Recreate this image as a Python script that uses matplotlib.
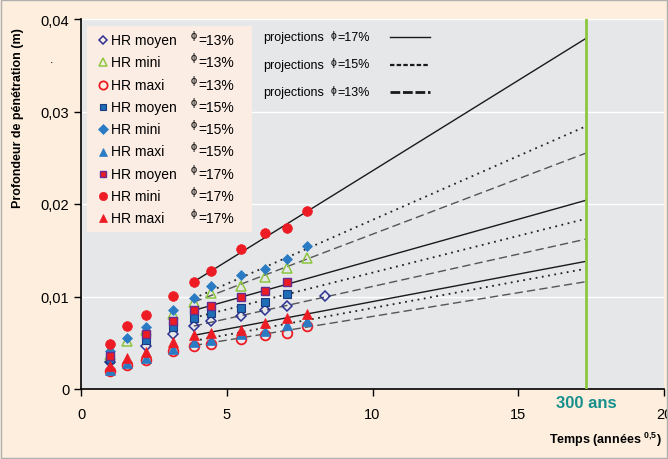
import numpy as np
import matplotlib.pyplot as plt
from matplotlib.patches import Rectangle

plt.rcParams['font.family'] = ['Liberation Sans', 'DejaVu Sans']
plt.rcParams['mathtext.fontset'] = 'custom'
plt.rcParams['mathtext.rm'] = 'Liberation Sans'
plt.rcParams['mathtext.bf'] = 'Liberation Sans:bold'

nan = np.nan
# temps (annees^0.5)
t = [1.0, 1.58, 2.24, 3.16, 3.87, 4.47, 5.48, 6.32, 7.07, 7.75, 8.37]

moy13 = [0.0029, nan, 0.0047, 0.0059, 0.0068, 0.0073, 0.0079, 0.0085, 0.0090, nan, 0.0101]
mini13 = [0.0037, 0.0052, 0.0064, 0.0081, 0.0094, 0.0104, 0.0111, 0.0121, 0.0131, 0.0142, nan]
maxi13 = [0.0019, 0.0026, 0.0031, 0.0041, 0.0047, 0.0049, 0.0054, 0.0058, 0.0061, 0.0068, nan]
moy15 = [0.0032, nan, 0.0053, 0.0067, 0.0077, 0.0082, 0.0088, 0.0094, 0.0103, nan, nan]
mini15 = [0.0041, 0.0055, 0.00675, 0.0085, 0.0098, 0.0111, 0.0123, 0.0130, 0.0141, 0.0155, nan]
maxi15 = [0.0021, 0.0028, 0.0033, 0.0043, 0.0051, 0.0053, 0.0060, 0.0063, 0.0069, 0.0073, nan]
moy17 = [0.0036, nan, 0.0059, 0.0073, 0.0085, 0.0090, 0.0099, 0.0106, 0.0116, nan, nan]
mini17 = [0.0049, 0.0068, 0.0080, 0.0101, 0.0116, 0.0128, 0.0151, 0.0169, 0.0174, 0.0192, nan]
maxi17 = [0.0025, 0.0033, 0.0040, 0.0051, 0.0058, 0.0061, 0.0064, 0.0071, 0.0077, 0.0081, nan]

# projections: debut / fin (a 300 ans)
t_proj = [3.87, np.sqrt(300)]
proj17 = [[0.0116, 0.0379], [0.0085, 0.0204], [0.0058, 0.0138]]
proj15 = [[0.0098, 0.0284], [0.0077, 0.0184], [0.0052, 0.0130]]
proj13 = [[0.0094, 0.0255], [0.0068, 0.0162], [0.0047, 0.0116]]

labels = ['HR moyen', 'HR mini', 'HR maxi'] * 3
phis = ['=13%'] * 3 + ['=15%'] * 3 + ['=17%'] * 3

red = '#ED1C24'
blue = '#1F6DB5'
navy = '#2E3192'
green = '#8DC63F'
purple = '#662D91'

styles = [
    dict(marker='D', ms=5, mfc='none', mec=navy, mew=1.1),
    dict(marker='^', ms=7, mfc='none', mec=green, mew=1.1),
    dict(marker='o', ms=7, mfc='none', mec=red, mew=1.3),
    dict(marker='s', ms=5.5, mfc=blue, mec='#1B3A80', mew=0.8),
    dict(marker='D', ms=5.5, mfc='#2A7BC4', mec='#2A7BC4', mew=0.5),
    dict(marker='^', ms=7, mfc='#2A7BC4', mec='#2A7BC4', mew=0.5),
    dict(marker='s', ms=5.5, mfc=red, mec=purple, mew=1.0),
    dict(marker='o', ms=7, mfc=red, mec=red, mew=0.5),
    dict(marker='^', ms=7, mfc=red, mec=red, mew=0.5),
]
series = [moy13, mini13, maxi13, moy15, mini15, maxi15, moy17, mini17, maxi17]

W, H = 668, 460
fig = plt.figure(figsize=(W / 100, H / 100), dpi=100, facecolor='#FDEEDD')
ax = fig.add_axes([81 / W, 1 - 390 / H, (664 - 81) / W, 370 / H])
ax.set_facecolor('#E6E7E9')

ax.set_xlim(0, 20)
ax.set_ylim(0, 0.04)
ax.set_yticks([0, 0.01, 0.02, 0.03, 0.04])
ax.set_yticklabels(['0', '0,01', '0,02', '0,03', '0,04'])
ax.set_xticks([0, 5, 10, 15, 20])
ax.tick_params(axis='both', labelsize=10.5, length=5, width=1, direction='out')
ax.tick_params(axis='x', pad=8)
for s in ['top', 'right']:
    ax.spines[s].set_visible(False)
for s in ['left', 'bottom']:
    ax.spines[s].set_linewidth(1.2)
ax.set_axisbelow(True)
ax.grid(axis='y', color='white', lw=1)

# projections
for pr in proj17:
    ax.plot(t_proj, pr, color='#1a1a1a', lw=1, zorder=2)
for pr in proj15:
    ax.plot(t_proj, pr, color='#222222', lw=1.3, ls=(0, (1, 2.5)), zorder=2)
for pr in proj13:
    ax.plot(t_proj, pr, color='#555555', lw=1, ls=(0, (6, 3)), zorder=2)

ax.axvline(np.sqrt(300), color=green, lw=2, zorder=3)

for vals, st in zip(series, styles):
    ax.plot(t, vals, ls='none', zorder=4, **st)

# legende points
fig.patches.append(Rectangle((87 / W, 1 - 233 / H), 165 / W, 206 / H,
                             transform=fig.transFigure, facecolor='#FCEDE4',
                             edgecolor='none', zorder=1))
for i, (lab, ph, st) in enumerate(zip(labels, phis, styles)):
    y = 41 + i * 22.3
    ln = plt.Line2D([103 / W], [1 - y / H], transform=fig.transFigure, ls='none', **st)
    ln.set_markersize(st['ms'] * 0.85)
    fig.add_artist(ln)
    fig.text(111 / W, 1 - y / H, lab, fontsize=10, va='center', ha='left')
    fig.text(191 / W, 1 - (y - 5) / H, 'ϕ', fontsize=8, va='center', ha='left')
    fig.text(198 / W, 1 - y / H, ph, fontsize=10, va='center', ha='left')

# legende projections
proj_names = ['=17%', '=15%', '=13%']
proj_ls = [dict(ls='-', lw=1, color='#1a1a1a'),
           dict(ls=(0, (2, 1)), lw=1.6, color='#1a1a1a'),
           dict(ls=(0, (3.5, 1)), lw=2, color='#1a1a1a')]
for i, (nm, lst) in enumerate(zip(proj_names, proj_ls)):
    y = 38 + i * 27.5
    fig.text(263 / W, 1 - y / H, 'projections', fontsize=9, va='center', ha='left')
    fig.text(331 / W, 1 - (y - 2) / H, 'ϕ', fontsize=7.5, va='center', ha='left')
    fig.text(337 / W, 1 - y / H, nm, fontsize=9, va='center', ha='left')
    fig.add_artist(plt.Line2D([390 / W, 430 / W], [1 - y / H, 1 - y / H],
                              transform=fig.transFigure, **lst))

fig.text(586 / W, 1 - 404 / H, '300 ans', color='#17908C', fontsize=12,
         fontweight='bold', ha='center', va='center')
fig.text(662 / W, 1 - 440 / H, r'Temps (années $^{\mathbf{0{,}5}}$)', fontsize=9,
         fontweight='bold', ha='right', va='center')
fig.text(18 / W, 1 - 118 / H, 'Profondeur de pénétration (m)', fontsize=9,
         fontweight='bold', rotation=90, ha='center', va='center')
fig.text(52 / W, 1 - 60 / H, '.', fontsize=9, ha='center', va='center')

fig.patches.append(Rectangle((0.002, 0.002), 0.996, 0.996, transform=fig.transFigure,
                             facecolor='none', edgecolor='#B0B0B0', lw=1))

fig.savefig('out.png', dpi=100, facecolor=fig.get_facecolor())
